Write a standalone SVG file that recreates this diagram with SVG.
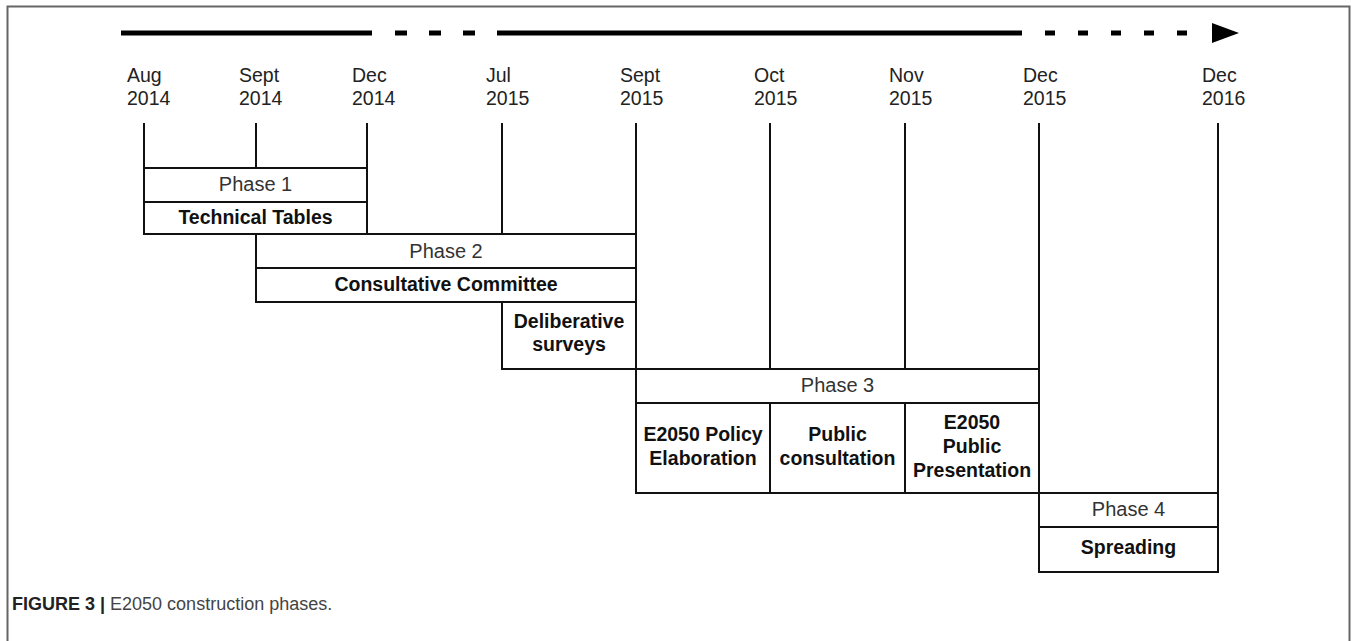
<svg xmlns="http://www.w3.org/2000/svg" width="1357" height="641" viewBox="0 0 1357 641">
<style>
.t{font-family:"Liberation Sans",Arial,sans-serif;font-size:19.5px;fill:#222}
.p{font-family:"Liberation Sans",Arial,sans-serif;font-size:20px;fill:#333;text-anchor:middle}
.b{font-family:"Liberation Sans",Arial,sans-serif;font-size:19.5px;font-weight:bold;fill:#111;text-anchor:middle}
.box{fill:#fff;stroke:#111;stroke-width:2}
.ln{stroke:#111;stroke-width:2;fill:none}
.cap{font-family:"Liberation Sans",Arial,sans-serif;font-size:18px;fill:#444}
</style>
<rect width="1357" height="641" fill="#fff"/>
<path d="M7.5,700 V6.5 H1349.5 V700" fill="none" stroke="#666" stroke-width="2"/>

<g id="timeline">
<line x1="121" y1="33" x2="372" y2="33" stroke="#000" stroke-width="5"/>
<line x1="395" y1="33" x2="497" y2="33" stroke="#000" stroke-width="5" stroke-dasharray="12,22"/>
<line x1="497" y1="33" x2="1022" y2="33" stroke="#000" stroke-width="5"/>
<line x1="1045" y1="33" x2="1200" y2="33" stroke="#000" stroke-width="5" stroke-dasharray="10,23"/>
<path d="M1212,23 L1239,33 L1212,43 Z" fill="#000"/>
</g>

<g id="dates">
<text class="t" x="127" y="82">Aug</text><text class="t" x="127" y="105">2014</text>
<text class="t" x="239" y="82">Sept</text><text class="t" x="239" y="105">2014</text>
<text class="t" x="352" y="82">Dec</text><text class="t" x="352" y="105">2014</text>
<text class="t" x="486" y="82">Jul</text><text class="t" x="486" y="105">2015</text>
<text class="t" x="620" y="82">Sept</text><text class="t" x="620" y="105">2015</text>
<text class="t" x="754" y="82">Oct</text><text class="t" x="754" y="105">2015</text>
<text class="t" x="889" y="82">Nov</text><text class="t" x="889" y="105">2015</text>
<text class="t" x="1023" y="82">Dec</text><text class="t" x="1023" y="105">2015</text>
<text class="t" x="1202" y="82">Dec</text><text class="t" x="1202" y="105">2016</text>
</g>

<g id="connectors">
<line class="ln" x1="144" y1="123" x2="144" y2="168"/>
<line class="ln" x1="256" y1="123" x2="256" y2="168"/>
<line class="ln" x1="367" y1="123" x2="367" y2="168"/>
<line class="ln" x1="502" y1="123" x2="502" y2="234"/>
<line class="ln" x1="636" y1="123" x2="636" y2="234"/>
<line class="ln" x1="770" y1="123" x2="770" y2="368"/>
<line class="ln" x1="905" y1="123" x2="905" y2="368"/>
<line class="ln" x1="1039" y1="123" x2="1039" y2="493"/>
<line class="ln" x1="1218" y1="123" x2="1218" y2="493"/>
</g>

<g id="phase1">
<rect class="box" x="144" y="168" width="223" height="34"/>
<text class="p" x="255.5" y="191">Phase 1</text>
<rect class="box" x="144" y="202" width="223" height="32"/>
<text class="b" x="255.5" y="224">Technical Tables</text>
</g>

<g id="phase2">
<rect class="box" x="256" y="234" width="380" height="34"/>
<text class="p" x="446" y="258">Phase 2</text>
<rect class="box" x="256" y="268" width="380" height="34"/>
<text class="b" x="446" y="291">Consultative Committee</text>
</g>

<g id="deliberative">
<rect class="box" x="502" y="302" width="134" height="67"/>
<text class="b" x="569" y="328">Deliberative</text>
<text class="b" x="569" y="351">surveys</text>
</g>

<g id="phase3">
<rect class="box" x="636" y="369" width="403" height="34"/>
<text class="p" x="837.5" y="392">Phase 3</text>
<rect class="box" x="636" y="403" width="134" height="90"/>
<text class="b" x="703" y="441">E2050 Policy</text>
<text class="b" x="703" y="465">Elaboration</text>
<rect class="box" x="770" y="403" width="135" height="90"/>
<text class="b" x="837.5" y="441">Public</text>
<text class="b" x="837.5" y="465">consultation</text>
<rect class="box" x="905" y="403" width="134" height="90"/>
<text class="b" x="972" y="429">E2050</text>
<text class="b" x="972" y="453">Public</text>
<text class="b" x="972" y="477">Presentation</text>
</g>

<g id="phase4">
<rect class="box" x="1039" y="493" width="179" height="34"/>
<text class="p" x="1128.5" y="516">Phase 4</text>
<rect class="box" x="1039" y="527" width="179" height="45"/>
<text class="b" x="1128.5" y="554">Spreading</text>
</g>

<text class="cap" x="12" y="610"><tspan font-weight="bold" fill="#222">FIGURE 3 |</tspan> E2050 construction phases.</text>
</svg>
